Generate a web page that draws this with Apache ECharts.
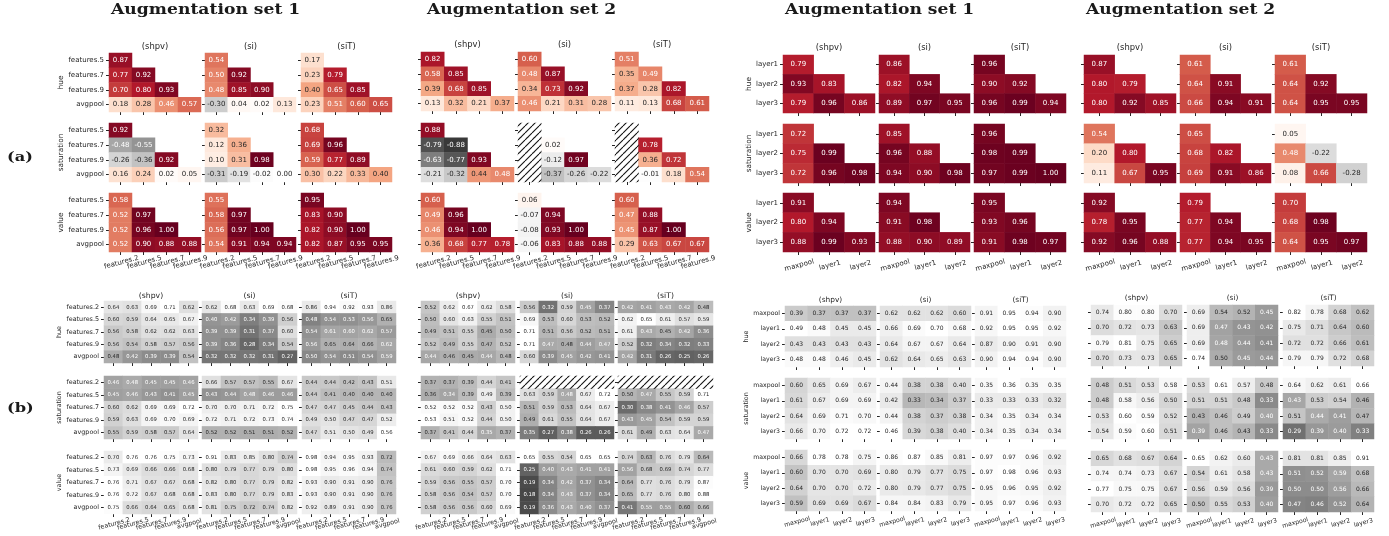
<!DOCTYPE html>
<html>
<head>
<meta charset="utf-8">
<title>Augmentation sets</title>
<script src="https://cdn.jsdelivr.net/npm/echarts@6/dist/echarts.min.js"></script>
<style>
  html, body { margin: 0; padding: 0; background: #fff; }
  #main { width: 1389px; height: 536px; }
</style>
</head>
<body>
<div id="main"></div>
<script>
  // H marks a cell with no correlation (drawn hatched)
  var H = 'h';

  var featX4 = ['features.2', 'features.5', 'features.7', 'features.9'];
  var featY4 = ['features.5', 'features.7', 'features.9', 'avgpool'];
  var feat5 = ['features.2', 'features.5', 'features.7', 'features.9', 'avgpool'];
  var layerX3 = ['maxpool', 'layer1', 'layer2'];
  var layerY3 = ['layer1', 'layer2', 'layer3'];
  var layer4 = ['maxpool', 'layer1', 'layer2', 'layer3'];

  var rowNames = ['hue', 'saturation', 'value'];
  var colNames = ['(shpv)', '(si)', '(siT)'];

  // (a) set 1, VGG features: each row holds shpv, si, siT
  var a1Hue = [
    [[.87], [.77, .92], [.70, .80, .93], [.18, .28, .46, .57]],
    [[.54], [.50, .92], [.48, .85, .90], [-.30, .04, .02, .13]],
    [[.17], [.23, .79], [.40, .65, .85], [.23, .51, .60, .65]]
  ];
  var a1Sat = [
    [[.92], [-.48, -.55], [-.26, -.36, .92], [.16, .24, .02, .05]],
    [[.32], [.12, .36], [.10, .31, .98], [-.31, -.19, -.02, .00]],
    [[.68], [.69, .96], [.59, .77, .89], [.30, .22, .33, .40]]
  ];
  var a1Val = [
    [[.58], [.52, .97], [.52, .96, 1.00], [.52, .90, .88, .88]],
    [[.55], [.58, .97], [.56, .97, 1.00], [.54, .91, .94, .94]],
    [[.95], [.83, .90], [.82, .90, 1.00], [.82, .87, .95, .95]]
  ];
  // (a) set 2, VGG features
  var a2Hue = [
    [[.82], [.58, .85], [.39, .68, .85], [.13, .32, .21, .37]],
    [[.60], [.48, .87], [.34, .73, .92], [.46, .21, .31, .28]],
    [[.51], [.35, .49], [.37, .28, .82], [.11, .13, .68, .61]]
  ];
  var a2Sat = [
    [[.88], [-.79, -.88], [-.63, -.77, .93], [-.21, -.32, .44, .48]],
    [[H], [H, .02], [H, -.12, .97], [H, -.37, -.26, -.22]],
    [[H], [H, .78], [H, .36, .72], [H, -.01, .18, .54]]
  ];
  var a2Val = [
    [[.60], [.49, .96], [.46, .94, 1.00], [.36, .68, .77, .78]],
    [[.06], [-.07, .94], [-.08, .93, 1.00], [-.06, .83, .88, .88]],
    [[.60], [.47, .88], [.45, .87, 1.00], [.29, .63, .67, .67]]
  ];
  // (a) set 1, resnet layers
  var a3Hue = [
    [[.79], [.93, .83], [.79, .96, .86]],
    [[.86], [.82, .94], [.89, .97, .95]],
    [[.96], [.90, .92], [.96, .99, .94]]
  ];
  var a3Sat = [
    [[.72], [.75, .99], [.72, .96, .98]],
    [[.85], [.96, .88], [.94, .90, .98]],
    [[.96], [.98, .99], [.97, .99, 1.00]]
  ];
  var a3Val = [
    [[.91], [.80, .94], [.88, .99, .93]],
    [[.94], [.91, .98], [.88, .90, .89]],
    [[.95], [.93, .96], [.91, .98, .97]]
  ];
  // (a) set 2, resnet layers
  var a4Hue = [
    [[.87], [.80, .79], [.80, .92, .85]],
    [[.61], [.64, .91], [.66, .94, .91]],
    [[.61], [.64, .92], [.64, .95, .95]]
  ];
  var a4Sat = [
    [[.54], [.20, .80], [.11, .67, .95]],
    [[.65], [.68, .82], [.69, .91, .86]],
    [[.05], [.48, -.22], [.08, .66, -.28]]
  ];
  var a4Val = [
    [[.92], [.78, .95], [.92, .96, .88]],
    [[.79], [.77, .94], [.77, .94, .95]],
    [[.70], [.68, .98], [.64, .95, .97]]
  ];

  // (b) set 1, VGG features
  var b1Hue = [
    [[.64, .63, .69, .71, .62], [.60, .59, .64, .65, .67], [.56, .58, .62, .62, .63], [.56, .54, .58, .57, .56], [.48, .42, .39, .39, .54]],
    [[.62, .68, .63, .69, .68], [.40, .42, .34, .39, .56], [.39, .39, .31, .37, .60], [.39, .36, .28, .34, .54], [.32, .32, .32, .31, .27]],
    [[.86, .94, .92, .93, .86], [.48, .54, .53, .56, .65], [.54, .61, .60, .62, .57], [.56, .65, .64, .66, .62], [.50, .54, .51, .54, .59]]
  ];
  var b1Sat = [
    [[.46, .48, .45, .45, .46], [.45, .46, .43, .41, .45], [.60, .62, .69, .69, .72], [.59, .63, .69, .70, .69], [.55, .59, .58, .57, .64]],
    [[.66, .57, .57, .55, .67], [.43, .44, .48, .46, .46], [.70, .70, .71, .72, .75], [.72, .71, .72, .73, .74], [.52, .52, .51, .51, .52]],
    [[.44, .44, .42, .43, .51], [.44, .41, .40, .40, .40], [.47, .47, .45, .44, .43], [.49, .50, .47, .47, .52], [.47, .51, .50, .49, .56]]
  ];
  var b1Val = [
    [[.70, .76, .76, .75, .73], [.73, .69, .66, .66, .68], [.76, .71, .67, .67, .68], [.76, .72, .67, .68, .68], [.75, .66, .64, .65, .68]],
    [[.91, .83, .85, .80, .74], [.80, .79, .77, .79, .80], [.82, .80, .77, .79, .82], [.83, .80, .77, .79, .83], [.81, .75, .72, .74, .82]],
    [[.98, .94, .95, .93, .72], [.98, .95, .96, .94, .74], [.93, .90, .91, .90, .76], [.93, .90, .91, .90, .76], [.92, .89, .91, .90, .76]]
  ];
  // (b) set 2, VGG features
  var b2Hue = [
    [[.52, .62, .67, .62, .58], [.50, .60, .63, .55, .51], [.49, .51, .55, .45, .50], [.52, .49, .55, .47, .52], [.44, .46, .45, .44, .48]],
    [[.56, .32, .59, .45, .37], [.69, .53, .60, .53, .52], [.71, .51, .56, .52, .51], [.71, .47, .48, .44, .47], [.60, .39, .45, .42, .41]],
    [[.42, .41, .43, .42, .48], [.62, .65, .61, .57, .59], [.61, .43, .45, .42, .36], [.52, .32, .34, .32, .33], [.42, .31, .26, .25, .26]]
  ];
  var b2Sat = [
    [[.37, .37, .39, .44, .41], [.36, .34, .39, .49, .39], [.52, .52, .52, .43, .50], [.53, .51, .52, .44, .50], [.37, .41, .44, .35, .37]],
    [[H, H, H, H, H], [.63, .59, .48, .67, .72], [.51, .59, .53, .64, .67], [.49, .61, .55, .64, .67], [.35, .27, .38, .26, .26]],
    [[H, H, H, H, H], [.50, .47, .55, .59, .71], [.30, .38, .41, .46, .57], [.43, .45, .54, .59, .59], [.61, .49, .63, .64, .47]]
  ];
  var b2Val = [
    [[.67, .69, .66, .64, .63], [.61, .60, .59, .62, .71], [.59, .56, .55, .57, .70], [.58, .56, .54, .57, .70], [.58, .56, .56, .60, .69]],
    [[.65, .55, .54, .65, .65], [.25, .40, .43, .41, .41], [.19, .34, .42, .37, .34], [.18, .34, .43, .37, .34], [.19, .36, .43, .40, .37]],
    [[.74, .63, .76, .79, .64], [.56, .68, .69, .74, .77], [.64, .77, .76, .79, .87], [.65, .77, .76, .80, .88], [.41, .55, .55, .60, .66]]
  ];
  // (b) set 1, resnet layers
  var b3Hue = [
    [[.39, .37, .37, .37], [.49, .48, .45, .45], [.43, .43, .43, .43], [.48, .48, .46, .45]],
    [[.62, .62, .62, .60], [.66, .69, .70, .68], [.64, .67, .67, .64], [.62, .64, .65, .63]],
    [[.91, .95, .94, .90], [.92, .95, .95, .92], [.87, .90, .91, .90], [.90, .94, .94, .90]]
  ];
  var b3Sat = [
    [[.60, .65, .69, .67], [.61, .67, .69, .69], [.64, .69, .71, .70], [.66, .70, .72, .72]],
    [[.44, .38, .38, .40], [.42, .33, .34, .37], [.44, .38, .37, .38], [.46, .39, .38, .40]],
    [[.35, .36, .35, .35], [.33, .33, .33, .32], [.34, .35, .34, .34], [.34, .35, .34, .34]]
  ];
  var b3Val = [
    [[.66, .78, .78, .75], [.60, .70, .70, .69], [.64, .70, .70, .72], [.59, .69, .69, .67]],
    [[.86, .87, .85, .81], [.80, .79, .77, .75], [.80, .79, .77, .75], [.84, .84, .83, .79]],
    [[.97, .97, .96, .92], [.97, .98, .96, .93], [.95, .96, .95, .92], [.95, .97, .96, .93]]
  ];
  // (b) set 2, resnet layers
  var b4Hue = [
    [[.74, .80, .80, .70], [.70, .72, .73, .63], [.79, .81, .75, .65], [.70, .73, .73, .65]],
    [[.69, .54, .52, .45], [.69, .47, .43, .42], [.69, .48, .44, .41], [.74, .50, .45, .44]],
    [[.82, .78, .68, .62], [.75, .71, .64, .60], [.72, .72, .66, .61], [.79, .79, .72, .68]]
  ];
  var b4Sat = [
    [[.48, .51, .53, .58], [.48, .58, .56, .50], [.53, .60, .59, .52], [.54, .59, .60, .51]],
    [[.53, .61, .57, .48], [.51, .51, .48, .33], [.43, .46, .49, .40], [.39, .46, .43, .33]],
    [[.64, .62, .61, .66], [.43, .53, .54, .46], [.51, .44, .41, .47], [.29, .39, .40, .33]]
  ];
  var b4Val = [
    [[.65, .68, .67, .64], [.74, .74, .73, .67], [.77, .75, .75, .67], [.70, .72, .72, .65]],
    [[.65, .62, .60, .43], [.54, .61, .58, .43], [.56, .59, .56, .39], [.50, .55, .53, .40]],
    [[.81, .81, .85, .91], [.51, .52, .59, .68], [.50, .50, .56, .66], [.47, .46, .52, .64]]
  ];

  // RdGy_r stops from -1 to 1
  var rdgy = ['#1a1a1a', '#4d4d4d', '#878787', '#bababa', '#e0e0e0', '#ffffff', '#fddbc7', '#f4a582', '#d6604d', '#b2182b', '#67001f'];

  var groups = [
    {data: [a1Hue, a1Sat, a1Val], xCats: featX4, yCats: featY4, red: true,
      xs: [[109, 201], [205, 296], [301, 392]], ys: [[53, 112], [123, 182], [193, 252]],
      cell: 7, axisFont: 7, titleFont: 8.4, titleY: 43, nameGap: 44, nameFont: 7.4, showY: true, xMargin: 7},
    {data: [a2Hue, a2Sat, a2Val], xCats: featX4, yCats: featY4, red: true,
      xs: [[421, 514], [518, 611], [615, 709]], ys: [[52, 111], [123, 182], [193, 252]],
      cell: 7, axisFont: 7, titleFont: 8.4, titleY: 41, showY: false, xMargin: 7},
    {data: [a3Hue, a3Sat, a3Val], xCats: layerX3, yCats: layerY3, red: true,
      xs: [[783, 875], [879, 970], [974, 1066]], ys: [[55, 113], [124, 183], [193, 252]],
      cell: 7, axisFont: 7, titleFont: 8.4, titleY: 44, nameGap: 30, nameFont: 7.4, showY: true, xMargin: 10},
    {data: [a4Hue, a4Sat, a4Val], xCats: layerX3, yCats: layerY3, red: true,
      xs: [[1084, 1176], [1180, 1271], [1275, 1367]], ys: [[55, 113], [124, 183], [193, 252]],
      cell: 7, axisFont: 7, titleFont: 8.4, titleY: 44, showY: false, xMargin: 10},
    {data: [b1Hue, b1Sat, b1Val], xCats: feat5, yCats: feat5, red: false,
      xs: [[104, 198], [202, 297], [302, 396]], ys: [[301, 363], [376, 439], [451, 514]],
      cell: 5.3, axisFont: 6.4, titleFont: 7.7, titleY: 292, nameGap: 42, nameFont: 6.4, showY: true, xMargin: 7},
    {data: [b2Hue, b2Sat, b2Val], xCats: feat5, yCats: feat5, red: false,
      xs: [[421, 515], [520, 614], [618, 713]], ys: [[301, 363], [376, 439], [451, 514]],
      cell: 5.3, axisFont: 6.4, titleFont: 7.7, titleY: 292, showY: false, xMargin: 7},
    {data: [b3Hue, b3Sat, b3Val], xCats: layer4, yCats: layer4, red: false,
      xs: [[785, 876], [880, 971], [975, 1066]], ys: [[306, 367], [378, 439], [450, 511]],
      cell: 6, axisFont: 6.2, titleFont: 7.4, titleY: 297, nameGap: 33, nameFont: 6.4, showY: true, xMargin: 8},
    {data: [b4Hue, b4Sat, b4Val], xCats: layer4, yCats: layer4, red: false,
      xs: [[1091, 1182], [1187, 1278], [1283, 1374]], ys: [[305, 366], [378, 439], [451, 512]],
      cell: 6, axisFont: 6.2, titleFont: 7.4, titleY: 295, showY: false, xMargin: 8}
  ];

  var INK = '#262626';

  function hexToRgb(hex) {
    return [parseInt(hex.substr(1, 2), 16), parseInt(hex.substr(3, 2), 16), parseInt(hex.substr(5, 2), 16)];
  }

  function luminance(rgb) {
    var c = rgb.map(function (u) {
      u = u / 255;
      return u <= 0.03928 ? u / 12.92 : Math.pow((u + 0.055) / 1.055, 2.4);
    });
    return 0.2126 * c[0] + 0.7152 * c[1] + 0.0722 * c[2];
  }

  // same rule seaborn uses to pick the annotation colour
  function textColor(v, red, panelMax) {
    var rgb;
    if (red) {
      var t = (v + 1) / 2 * 10;
      var i = Math.min(9, Math.floor(t));
      var a = hexToRgb(rdgy[i]), b = hexToRgb(rdgy[i + 1]);
      rgb = [0, 1, 2].map(function (k) { return a[k] + (b[k] - a[k]) * (t - i); });
    } else {
      var g = 255 * v / panelMax;
      rgb = [g, g, g];
    }
    return luminance(rgb) > 0.408 ? INK : '#fff';
  }

  function hatchTile() {
    var s = 7;
    var c = document.createElement('canvas');
    c.width = s;
    c.height = s;
    var ctx = c.getContext('2d');
    ctx.strokeStyle = '#111';
    ctx.lineWidth = 1.1;
    [-s, 0, s].forEach(function (d) {
      ctx.beginPath();
      ctx.moveTo(d, s);
      ctx.lineTo(d + s, 0);
      ctx.stroke();
    });
    return c;
  }
  var hatchFill = {image: hatchTile(), repeat: 'repeat'};

  var grids = [], xAxes = [], yAxes = [], series = [], visualMaps = [], titles = [];
  var redSeries = [];

  groups.forEach(function (g) {
    g.data.forEach(function (rowData, r) {
      rowData.forEach(function (matrix, c) {
        var gi = grids.length;
        var left = g.xs[c][0], right = g.xs[c][1], top = g.ys[r][0], bottom = g.ys[r][1];
        grids.push({left: left, top: top, width: right - left, height: bottom - top});

        xAxes.push({
          type: 'category', gridIndex: gi, data: g.xCats, position: 'bottom',
          axisLine: {show: false, onZero: false},
          axisTick: {show: true, length: 3, alignWithLabel: true, lineStyle: {color: INK, width: 1}},
          axisLabel: {
            show: r === 2, interval: 0, rotate: 15, align: 'center', verticalAlign: 'top',
            margin: g.xMargin, fontFamily: 'DejaVu Sans', fontSize: g.axisFont, color: INK
          },
          splitLine: {show: false}
        });
        yAxes.push({
          type: 'category', gridIndex: gi, data: g.yCats, inverse: true, position: 'left',
          name: g.showY && c === 0 ? rowNames[r] : '',
          nameLocation: 'middle', nameGap: g.nameGap || 0, nameRotate: 90,
          nameTextStyle: {fontFamily: 'DejaVu Sans', fontSize: g.nameFont, color: INK},
          axisLine: {show: false, onZero: false},
          axisTick: {show: true, length: 3, alignWithLabel: true, lineStyle: {color: INK, width: 1}},
          axisLabel: {
            show: g.showY && c === 0, interval: 0, margin: 5,
            fontFamily: 'DejaVu Sans', fontSize: g.axisFont, color: INK
          },
          splitLine: {show: false}
        });

        if (r === 0) {
          titles.push({
            text: colNames[c], left: (left + right) / 2, top: g.titleY, textAlign: 'center', padding: 0,
            textStyle: {fontFamily: 'DejaVu Sans', fontSize: g.titleFont, fontWeight: 'normal', color: INK}
          });
        }

        var panelMax = 0;
        matrix.forEach(function (row) {
          row.forEach(function (v) { if (v !== H && v > panelMax) panelMax = v; });
        });

        var cells = [], hatched = [];
        matrix.forEach(function (row, y) {
          row.forEach(function (v, x) {
            if (v === H) {
              hatched.push([x, y, 0]);
            } else {
              cells.push({value: [x, y, v], label: {color: textColor(v, g.red, panelMax)}});
            }
          });
        });

        if (g.red) {
          redSeries.push(series.length);
        } else {
          visualMaps.push({
            show: false, seriesIndex: series.length, dimension: 2, min: 0, max: panelMax,
            inRange: {color: ['#000000', '#ffffff']}
          });
        }
        series.push({
          type: 'heatmap', xAxisIndex: gi, yAxisIndex: gi, data: cells,
          label: {
            show: true, fontFamily: 'DejaVu Sans', fontSize: g.cell,
            formatter: function (p) { return p.value[2].toFixed(2); }
          },
          emphasis: {disabled: true}
        });
        if (hatched.length) {
          series.push({
            type: 'heatmap', xAxisIndex: gi, yAxisIndex: gi, data: hatched,
            itemStyle: {color: hatchFill}, label: {show: false}, emphasis: {disabled: true}
          });
        }
      });
    });
  });

  visualMaps.push({
    show: false, seriesIndex: redSeries, dimension: 2, min: -1, max: 1,
    inRange: {color: rdgy}
  });

  // headings are stretched sideways to get the wide look of the reference font
  function heading(text, x, y, size, stretch) {
    return {
      type: 'text', x: x, y: y, scaleX: stretch, silent: true,
      style: {
        text: text, fill: '#1a1a1a', align: 'left', verticalAlign: 'middle',
        fontFamily: 'DejaVu Serif', fontSize: size, fontWeight: 'bold'
      }
    };
  }
  var headings = [
    heading('Augmentation set 1', 111, 10, 15, 1.145),
    heading('Augmentation set 2', 427, 10, 15, 1.145),
    heading('Augmentation set 1', 785, 10, 15, 1.145),
    heading('Augmentation set 2', 1086, 10, 15, 1.145),
    heading('(a)', 7, 158, 13, 1.25),
    heading('(b)', 7, 409, 13, 1.25)
  ];

  var myChart = echarts.init(document.getElementById('main'));
  myChart.setOption({
    animation: false,
    backgroundColor: '#fff',
    title: titles,
    grid: grids,
    xAxis: xAxes,
    yAxis: yAxes,
    visualMap: visualMaps,
    series: series,
    graphic: headings
  });
</script>
</body>
</html>
